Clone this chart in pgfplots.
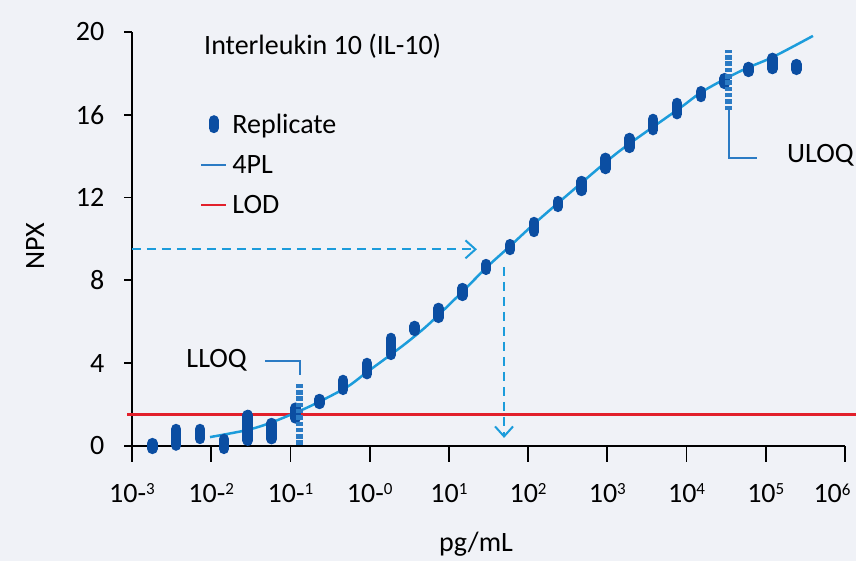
\documentclass[border=0pt]{standalone}
\usepackage{fontspec}
\setmainfont{Carlito}
\usepackage{pgfplots}
\usepackage{pgfplotstable}
\pgfplotsset{compat=1.18}
\usetikzlibrary{arrows.meta}
\definecolor{bg}{HTML}{F0F2F7}
\definecolor{repblue}{HTML}{0B4EA2}
\definecolor{curve}{HTML}{1C9CDB}
\definecolor{midblue}{HTML}{2B7BC4}
\definecolor{lodred}{HTML}{E2202B}
\newcommand\sups[1]{\raisebox{7.3pt}{\fontsize{17}{17}\selectfont #1}}
\newcommand\bigf{\fontsize{28}{34}\selectfont}

% replicate clusters: x (pg/mL), centre NPX, half-range
\pgfplotstableread{
x y e
0.001807 0.00 0.14
0.003614 0.42 0.40
0.007228 0.58 0.24
0.014456 0.10 0.24
0.028912 0.88 0.62
0.057824 0.72 0.39
0.115648 1.59 0.26
0.231296 2.15 0.12
0.462592 2.95 0.24
0.925184 3.74 0.27
1.850368 4.81 0.41
3.700736 5.68 0.12
7.401472 6.43 0.24
14.80294 7.44 0.19
29.60589 8.65 0.14
59.21178 9.61 0.14
118.4236 10.58 0.24
236.8471 11.69 0.14
473.6942 12.56 0.24
947.3884 13.65 0.27
1894.777 14.64 0.24
3789.554 15.53 0.27
7579.107 16.30 0.27
15158.21 17.00 0.14
30316.43 17.63 0.14
60632.86 18.19 0.12
121265.7 18.48 0.27
242531.4 18.31 0.14
}\reptable

\begin{document}
\begin{tikzpicture}[font=\bigf]
\fill[bg] (0,0) rectangle (856pt,561pt);
\begin{axis}[
  at={(132pt,115pt)}, anchor=south west,
  scale only axis, width=713pt, height=414pt,
  xmode=log, xmin=1e-3, xmax=1e6, ymin=0, ymax=20,
  axis x line*=bottom, axis y line*=left,
  axis line style={line width=1.8pt, black},
  tick align=outside,
  xminorticks=false,
  xtick={1e-3,1e-2,1e-1,1,1e1,1e2,1e3,1e4,1e5,1e6},
  xticklabels={10-\sups{3},10-\sups{2},10-\sups{1},10-\sups{0},10\sups{1},10\sups{2},10\sups{3},10\sups{4},10\sups{5},\hspace*{-26pt}10\sups{6}},
  xtick style={/pgfplots/major tick length=16pt, line width=1.8pt, black},
  xticklabel style={yshift=-30pt},
  ytick={0,4,8,12,16,20}, yticklabels={0,4,8,12,16,20},
  ytick style={/pgfplots/major tick length=8pt, line width=1.8pt, black},
  yticklabel style={xshift=-20pt},
  tick label style={font=\bigf},
  xlabel={pg/mL}, ylabel={NPX},
  xlabel style={at={(axis description cs:0.4825,0)}, anchor=base, yshift=-106pt, font=\bigf},
  ylabel style={at={(axis description cs:-0.136,0.483)}, anchor=center, rotate=0, font=\bigf},
  clip=false,
  legend cell align=left,
  legend style={at={(rel axis cs:0.095,0.808)}, anchor=north west, draw=none, fill=none,
    font=\bigf, row sep=16.5pt, inner sep=0pt, nodes={inner sep=2pt},
    /tikz/every odd column/.append style={column sep=3pt}},
]
\addlegendimage{legend image code/.code={\path (0pt,0pt) (25pt,0pt);
   \draw[repblue, line width=10pt, line cap=round] (12.5pt,-4pt) -- (12.5pt,4pt);}}
\addlegendentry{Replicate}
\addlegendimage{legend image code/.code={\draw[midblue, line width=2.5pt] (0pt,0pt) -- (25pt,0pt);}}
\addlegendentry{4PL}
\addlegendimage{legend image code/.code={\draw[lodred, line width=2.5pt] (0pt,0pt) -- (25pt,0pt);}}
\addlegendentry{LOD}

% LOD
\addplot[lodred, line width=3pt, forget plot] coordinates {(8.65e-4,1.5) (1.38e6,1.5)};
% 4PL fit
\addplot[curve, line width=2.5pt, smooth, forget plot] coordinates {
 (0.00966,0.43) (0.0283,0.77) (0.0552,1.11) (0.121,1.64) (0.216,2.08) (0.518,2.85)
 (0.925,3.57) (1.97,4.49) (3.23,5.12) (5.78,5.94) (14.7,7.44) (30.3,8.65) (57.4,9.61)
 (115,10.68) (239,11.74) (962,13.72) (1880,14.59) (8260,16.33) (14800,17.05)
 (28800,17.68) (58000,18.26) (123000,18.79) (394000,19.81)};
% read-off arrows
\draw[curve, line width=2pt, dash pattern=on 9pt off 6pt, -{Straight Barb[length=10pt,width=18pt]}]
  (axis cs:1e-3,9.5) -- (axis cs:22.6,9.5);
\draw[curve, line width=2pt, dash pattern=on 9pt off 6pt, -{Straight Barb[length=10pt,width=18pt]}]
  (axis cs:49.7,8.65) -- (axis cs:49.7,0.39);
% replicates
\addplot[draw=none, mark=none, forget plot,
  error bars/.cd, y dir=both, y explicit, error mark=none,
  error bar style={draw=repblue, line width=10.5pt, line cap=round}]
  table[x=x, y=y, y error=e] {\reptable};
% LLOQ / ULOQ
\addplot[midblue, line width=7pt, dash pattern=on 4.5pt off 1.8pt, forget plot]
  coordinates {(0.132,0.05) (0.132,3.04)};
\addplot[midblue, line width=7pt, dash pattern=on 4.5pt off 1.8pt, forget plot]
  coordinates {(33900,16.23) (33900,19.13)};
\draw[midblue, line width=2pt] (axis cs:0.0478,4.12) -| (axis cs:0.132,3.43);
\draw[midblue, line width=2pt] (axis cs:33900,16.23) |- (axis cs:77400,13.91);
\end{axis}
\node[anchor=base west, inner sep=0pt] at (204pt,506pt) {Interleukin 10 (IL-10)};
\node[anchor=base east, inner sep=0pt] at (247pt,193pt) {LLOQ};
\node[anchor=base west, inner sep=0pt] at (787pt,398pt) {ULOQ};
\pgfresetboundingbox
\useasboundingbox (0,0) rectangle (856pt,561pt);
\end{tikzpicture}
\end{document}
